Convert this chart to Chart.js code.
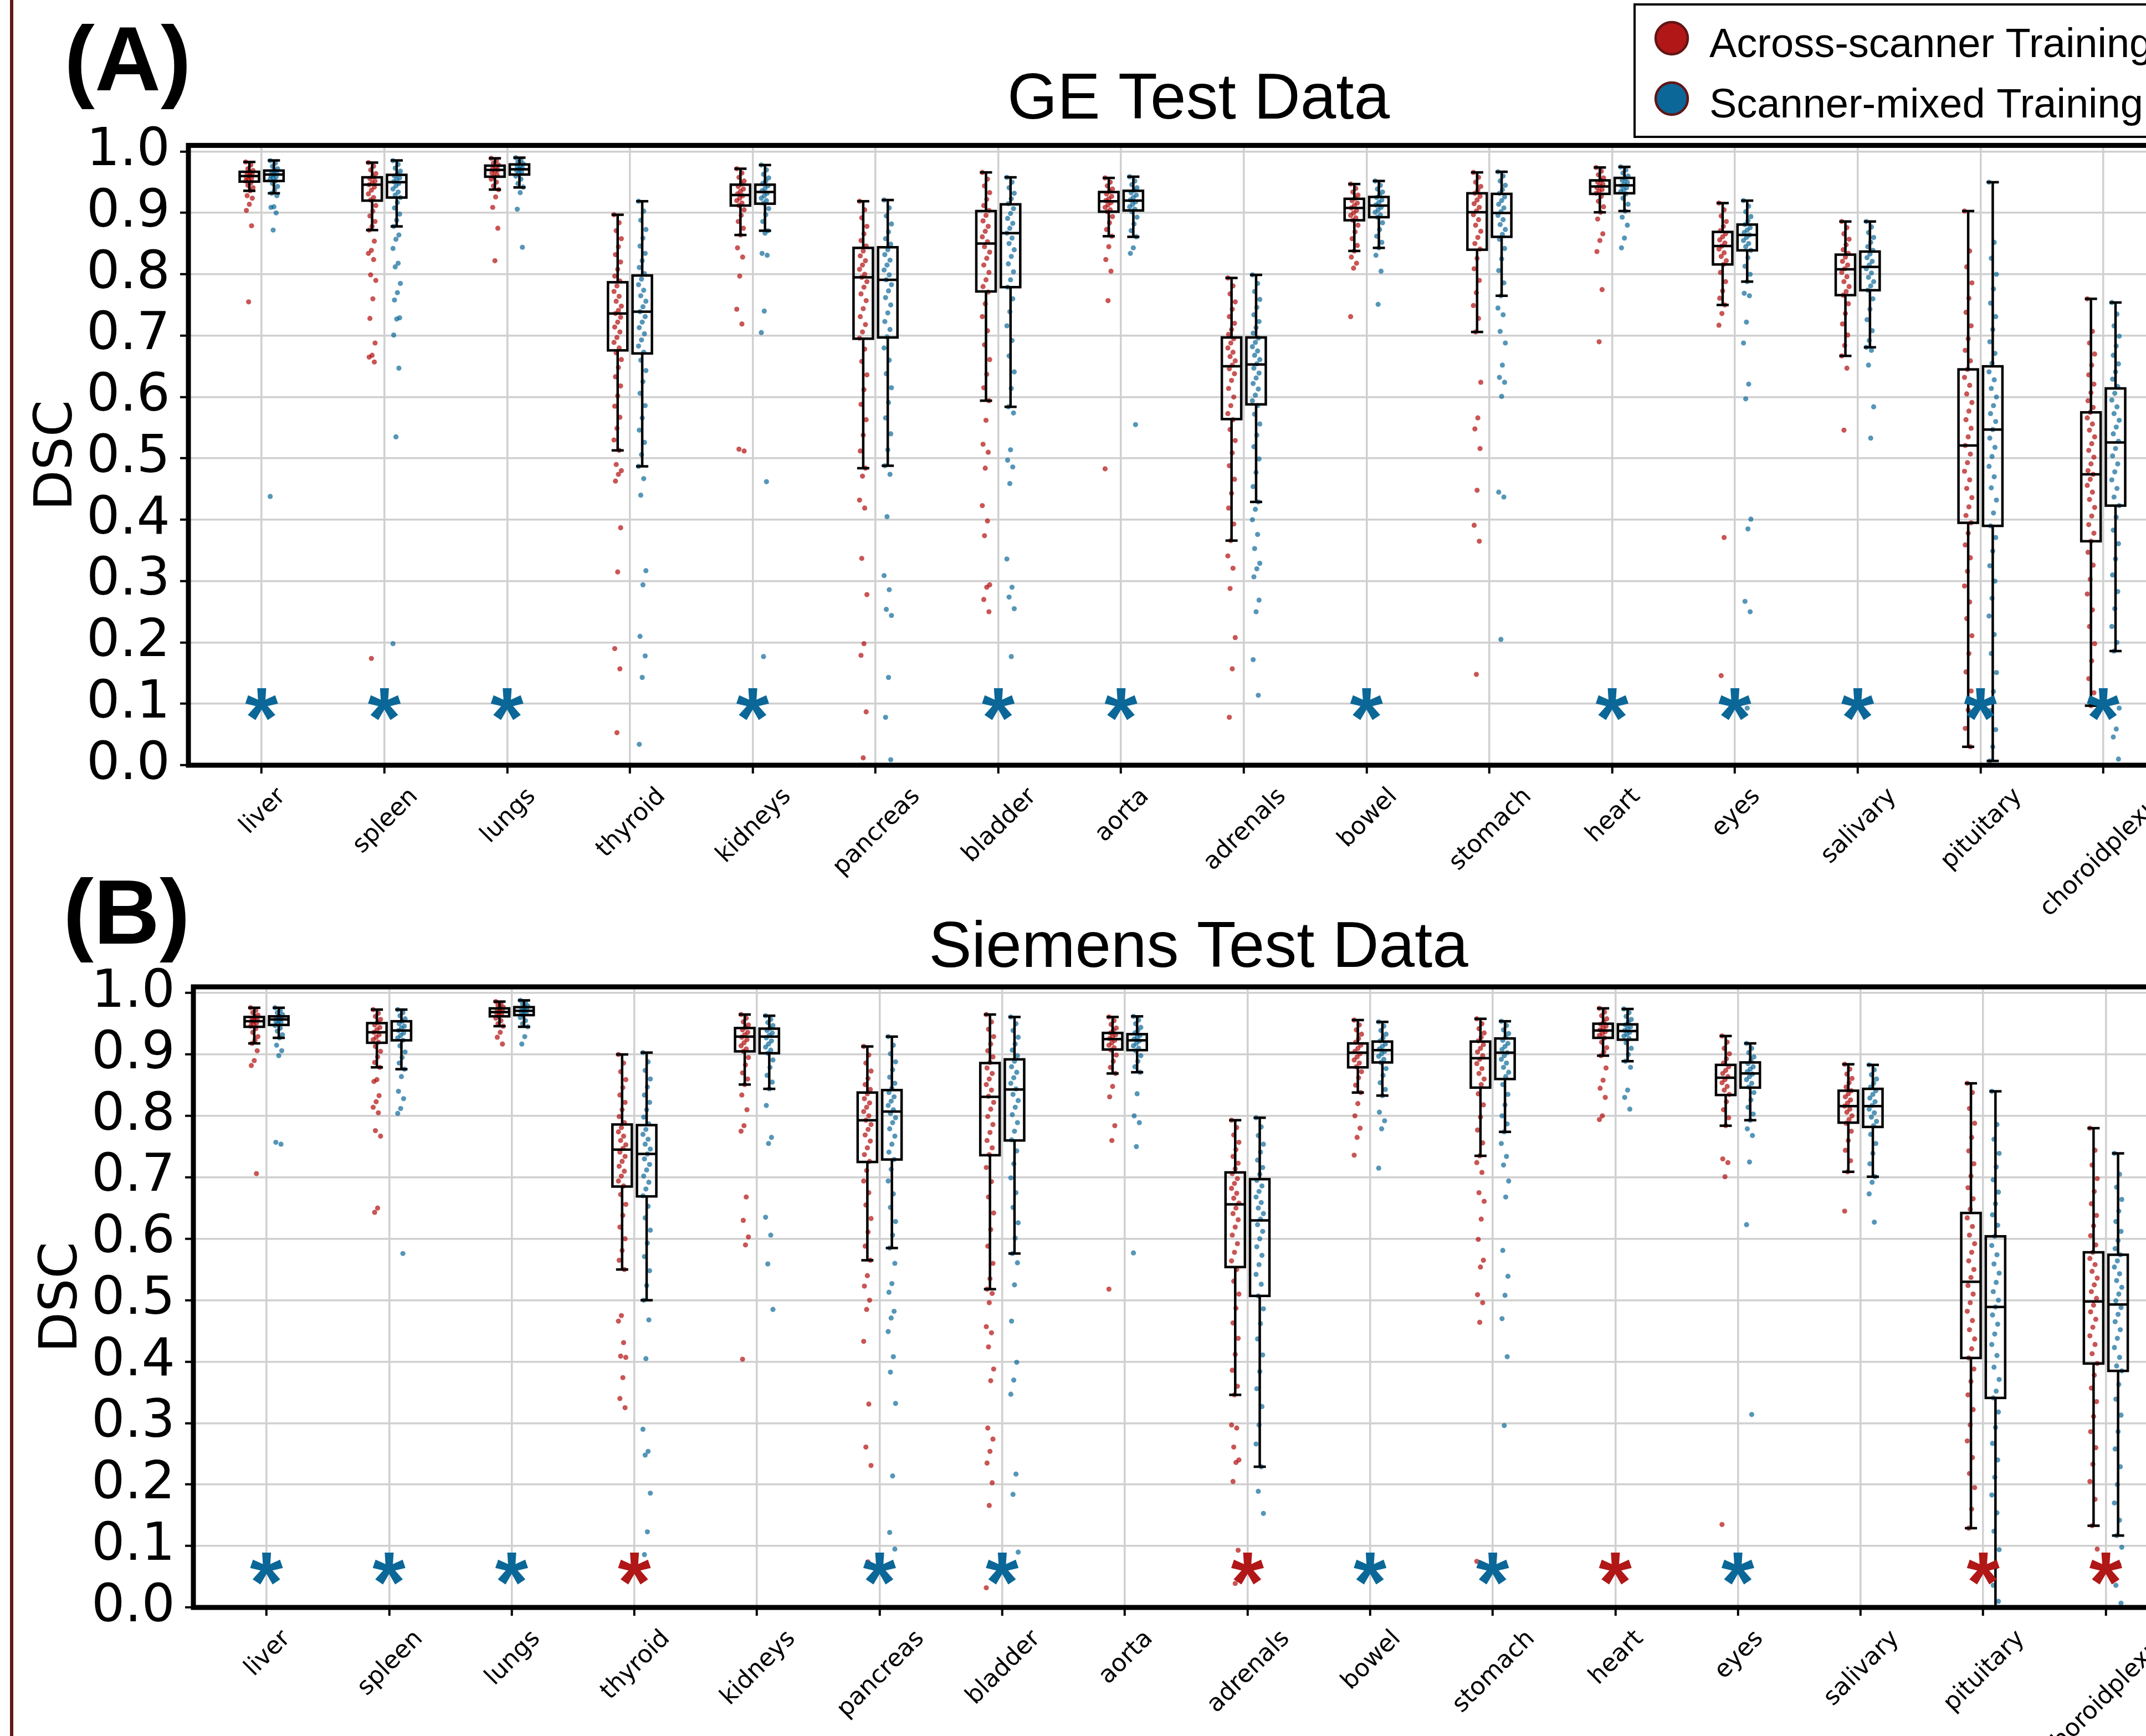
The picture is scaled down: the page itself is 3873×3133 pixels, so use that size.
<!DOCTYPE html>
<html><head><meta charset="utf-8">
<script src="https://cdn.jsdelivr.net/npm/chart.js@4.4.1/dist/chart.umd.min.js"></script>
<style>
html,body{margin:0;padding:0;background:#fff;overflow:hidden;width:3873px;height:3133px;position:relative;}
canvas{position:absolute;left:0;}
#cA{top:0}
#cB{top:1500px}
#edge{position:absolute;left:18px;top:0;width:6px;height:3133px;background:#651818;}
</style></head><body>
<canvas id="cA" width="4100" height="1700" style="width:4100px;height:1700px"></canvas>
<canvas id="cB" width="4100" height="1633" style="width:4100px;height:1633px"></canvas>
<div id="edge"></div>
<script>
// ---------------- DATA ----------------
const organs = ['liver','spleen','lungs','thyroid','kidneys','pancreas','bladder','aorta','adrenals','bowel','stomach','heart','eyes','salivary','pituitary','choroidplexus'];
const seriesNames = ['Across-scanner Training','Scanner-mixed Training'];
const yTicks = [0.0,0.1,0.2,0.3,0.4,0.5,0.6,0.7,0.8,0.9,1.0];
const panelTitles = ['GE Test Data','Siemens Test Data'];
const panelLabels = ['(A)','(B)'];

// box stats: [lower whisker, Q1, median, Q3, upper whisker]
const geAcrossBox = [
 [0.936,0.951,0.960,0.967,0.983],[0.872,0.920,0.946,0.958,0.982],[0.938,0.959,0.970,0.977,0.989],[0.513,0.676,0.736,0.787,0.897],
 [0.864,0.912,0.929,0.946,0.972],[0.484,0.695,0.795,0.843,0.919],[0.594,0.772,0.850,0.903,0.966],[0.862,0.902,0.919,0.934,0.957],
 [0.366,0.564,0.650,0.697,0.794],[0.838,0.888,0.908,0.923,0.947],[0.706,0.840,0.901,0.932,0.966],[0.901,0.931,0.943,0.953,0.974],
 [0.750,0.816,0.846,0.869,0.916],[0.667,0.766,0.808,0.832,0.886],[0.030,0.395,0.521,0.645,0.903],[0.097,0.365,0.474,0.575,0.760]];
const geMixedBox = [
 [0.932,0.952,0.9625,0.969,0.9855],[0.878,0.925,0.950,0.962,0.9855],[0.9415,0.9625,0.971,0.979,0.990],[0.487,0.671,0.739,0.798,0.919],
 [0.871,0.915,0.934,0.946,0.978],[0.488,0.697,0.791,0.844,0.921],[0.584,0.779,0.867,0.914,0.958],[0.861,0.904,0.920,0.936,0.959],
 [0.429,0.588,0.653,0.697,0.799],[0.843,0.893,0.912,0.926,0.952],[0.765,0.861,0.900,0.931,0.967],[0.903,0.932,0.945,0.957,0.975],
 [0.788,0.839,0.864,0.881,0.920],[0.681,0.774,0.812,0.837,0.886],[0.007,0.390,0.547,0.650,0.950],[0.186,0.423,0.526,0.614,0.754]];
const siemensAcrossBox = [
 [0.918,0.945,0.954,0.961,0.976],[0.879,0.919,0.936,0.951,0.973],[0.946,0.962,0.969,0.975,0.986],[0.550,0.685,0.745,0.786,0.900],
 [0.851,0.905,0.929,0.943,0.965],[0.565,0.725,0.793,0.838,0.913],[0.518,0.736,0.831,0.886,0.965],[0.869,0.908,0.925,0.935,0.961],
 [0.346,0.554,0.656,0.708,0.793],[0.838,0.879,0.903,0.918,0.956],[0.735,0.846,0.894,0.921,0.958],[0.898,0.927,0.939,0.950,0.975],
 [0.784,0.834,0.862,0.883,0.930],[0.709,0.789,0.816,0.841,0.884],[0.129,0.406,0.530,0.642,0.853],[0.133,0.397,0.498,0.578,0.780]];
const siemensMixedBox = [
 [0.927,0.948,0.957,0.962,0.976],[0.876,0.923,0.939,0.954,0.973],[0.945,0.964,0.971,0.977,0.988],[0.500,0.669,0.738,0.785,0.903],
 [0.844,0.902,0.929,0.942,0.963],[0.585,0.729,0.807,0.842,0.929],[0.576,0.760,0.843,0.892,0.961],[0.871,0.907,0.923,0.933,0.962],
 [0.229,0.507,0.630,0.697,0.797],[0.833,0.887,0.907,0.921,0.953],[0.774,0.860,0.903,0.926,0.954],[0.889,0.924,0.938,0.949,0.974],
 [0.793,0.846,0.869,0.887,0.918],[0.701,0.782,0.816,0.844,0.883],[0.000,0.341,0.489,0.604,0.840],[0.117,0.385,0.493,0.574,0.739]];

// individual case DSC values (estimated from the strip points)
const geAcrossPts = [
 [0.983,0.978,0.972,0.969,0.966,0.964,0.962,0.960,0.958,0.956,0.954,0.952,0.949,0.945,0.941,0.936,0.928,0.924,0.914,0.904,0.879,0.755],
 [0.982,0.976,0.970,0.964,0.959,0.956,0.952,0.949,0.946,0.942,0.937,0.931,0.925,0.921,0.912,0.903,0.895,0.886,0.878,0.872,0.854,0.839,0.834,0.824,0.799,0.790,0.760,0.728,0.688,0.668,0.665,0.657,0.174],
 [0.989,0.985,0.981,0.978,0.975,0.972,0.970,0.968,0.965,0.962,0.959,0.955,0.950,0.944,0.938,0.926,0.909,0.875,0.822],
 [0.897,0.884,0.871,0.858,0.845,0.832,0.820,0.808,0.797,0.789,0.781,0.772,0.764,0.756,0.748,0.741,0.736,0.730,0.722,0.714,0.706,0.697,0.689,0.680,0.672,0.661,0.648,0.633,0.618,0.602,0.585,0.567,0.549,0.530,0.513,0.490,0.480,0.474,0.463,0.387,0.315,0.190,0.157,0.053],
 [0.972,0.965,0.958,0.952,0.947,0.943,0.939,0.935,0.931,0.928,0.924,0.920,0.916,0.912,0.905,0.896,0.886,0.875,0.864,0.843,0.828,0.797,0.743,0.719,0.515,0.512],
 [0.919,0.905,0.892,0.878,0.866,0.855,0.846,0.838,0.830,0.822,0.815,0.808,0.800,0.795,0.788,0.779,0.768,0.757,0.744,0.731,0.718,0.706,0.696,0.678,0.658,0.636,0.612,0.588,0.563,0.538,0.512,0.484,0.471,0.432,0.419,0.337,0.278,0.198,0.179,0.087,0.012],
 [0.966,0.955,0.944,0.933,0.922,0.912,0.904,0.896,0.887,0.878,0.870,0.861,0.853,0.845,0.836,0.826,0.815,0.803,0.791,0.780,0.771,0.752,0.731,0.708,0.685,0.661,0.637,0.615,0.594,0.562,0.523,0.510,0.484,0.423,0.398,0.374,0.294,0.290,0.270,0.250],
 [0.957,0.950,0.944,0.939,0.935,0.931,0.927,0.923,0.920,0.917,0.913,0.909,0.905,0.902,0.894,0.884,0.873,0.862,0.845,0.824,0.805,0.757,0.483],
 [0.794,0.781,0.768,0.755,0.743,0.731,0.720,0.710,0.702,0.695,0.688,0.680,0.673,0.666,0.659,0.652,0.646,0.638,0.627,0.614,0.600,0.586,0.573,0.563,0.547,0.529,0.509,0.488,0.466,0.443,0.419,0.393,0.366,0.341,0.321,0.288,0.208,0.157,0.078],
 [0.947,0.940,0.934,0.929,0.924,0.920,0.916,0.912,0.908,0.904,0.900,0.896,0.892,0.888,0.880,0.869,0.858,0.847,0.838,0.828,0.818,0.810,0.731],
 [0.966,0.958,0.950,0.943,0.937,0.932,0.927,0.921,0.915,0.909,0.903,0.897,0.889,0.880,0.870,0.860,0.850,0.841,0.826,0.809,0.790,0.770,0.749,0.728,0.706,0.624,0.566,0.548,0.516,0.448,0.391,0.365,0.148],
 [0.974,0.968,0.962,0.957,0.953,0.950,0.947,0.944,0.941,0.938,0.935,0.932,0.927,0.919,0.910,0.901,0.890,0.866,0.855,0.837,0.775,0.690],
 [0.916,0.905,0.895,0.886,0.878,0.871,0.866,0.861,0.856,0.851,0.846,0.841,0.835,0.829,0.822,0.816,0.803,0.788,0.773,0.761,0.750,0.736,0.717,0.371,0.146],
 [0.886,0.876,0.866,0.857,0.848,0.840,0.834,0.828,0.821,0.815,0.809,0.803,0.796,0.788,0.780,0.772,0.766,0.752,0.736,0.719,0.701,0.684,0.667,0.647,0.546],
 [0.903,0.838,0.812,0.786,0.761,0.738,0.716,0.695,0.676,0.659,0.645,0.632,0.619,0.605,0.591,0.577,0.563,0.549,0.535,0.521,0.507,0.493,0.479,0.465,0.451,0.436,0.421,0.407,0.395,0.378,0.359,0.338,0.316,0.292,0.266,0.239,0.211,0.182,0.152,0.121,0.090,0.060,0.030],
 [0.760,0.707,0.688,0.670,0.652,0.636,0.621,0.607,0.594,0.583,0.575,0.566,0.556,0.546,0.535,0.524,0.513,0.502,0.491,0.480,0.474,0.466,0.456,0.445,0.433,0.420,0.406,0.392,0.378,0.365,0.347,0.326,0.303,0.279,0.253,0.226,0.198,0.170,0.141,0.118,0.097]];
const geMixedPts = [
 [0.985,0.981,0.976,0.972,0.969,0.967,0.965,0.963,0.961,0.959,0.957,0.955,0.952,0.948,0.943,0.937,0.932,0.928,0.910,0.909,0.900,0.872,0.438],
 [0.985,0.979,0.973,0.968,0.963,0.960,0.957,0.954,0.951,0.948,0.944,0.939,0.934,0.929,0.925,0.917,0.908,0.898,0.888,0.878,0.864,0.857,0.842,0.818,0.812,0.785,0.770,0.758,0.729,0.727,0.701,0.647,0.535,0.198],
 [0.990,0.986,0.983,0.980,0.977,0.975,0.973,0.971,0.969,0.967,0.964,0.960,0.955,0.948,0.942,0.933,0.906,0.844],
 [0.919,0.903,0.888,0.873,0.859,0.846,0.834,0.822,0.811,0.801,0.792,0.783,0.774,0.765,0.756,0.747,0.739,0.731,0.722,0.713,0.703,0.693,0.683,0.673,0.660,0.643,0.625,0.606,0.586,0.566,0.546,0.526,0.506,0.487,0.467,0.440,0.317,0.294,0.210,0.178,0.143,0.034],
 [0.978,0.970,0.963,0.957,0.952,0.948,0.944,0.940,0.936,0.932,0.928,0.924,0.920,0.916,0.907,0.897,0.886,0.871,0.867,0.834,0.831,0.740,0.705,0.462,0.177],
 [0.921,0.908,0.895,0.882,0.869,0.858,0.849,0.840,0.832,0.823,0.815,0.807,0.799,0.791,0.783,0.773,0.762,0.750,0.737,0.723,0.710,0.698,0.680,0.660,0.638,0.615,0.591,0.566,0.540,0.514,0.488,0.474,0.405,0.309,0.286,0.254,0.244,0.143,0.078,0.009],
 [0.958,0.950,0.941,0.932,0.923,0.915,0.907,0.899,0.891,0.883,0.875,0.867,0.859,0.850,0.840,0.829,0.817,0.804,0.791,0.779,0.760,0.739,0.716,0.692,0.667,0.641,0.614,0.584,0.574,0.514,0.497,0.486,0.459,0.336,0.290,0.274,0.255,0.177],
 [0.959,0.952,0.946,0.941,0.937,0.933,0.929,0.925,0.921,0.918,0.914,0.910,0.906,0.902,0.893,0.882,0.871,0.861,0.843,0.834,0.555],
 [0.799,0.785,0.772,0.759,0.746,0.734,0.723,0.713,0.704,0.696,0.689,0.682,0.675,0.668,0.661,0.654,0.647,0.639,0.631,0.622,0.613,0.603,0.594,0.586,0.572,0.556,0.538,0.519,0.499,0.477,0.454,0.429,0.417,0.400,0.376,0.353,0.329,0.320,0.307,0.269,0.250,0.172,0.114],
 [0.952,0.945,0.939,0.934,0.929,0.925,0.921,0.917,0.913,0.909,0.905,0.901,0.897,0.893,0.884,0.873,0.862,0.852,0.843,0.831,0.805,0.751],
 [0.967,0.960,0.952,0.945,0.938,0.932,0.926,0.920,0.914,0.908,0.902,0.896,0.889,0.881,0.873,0.865,0.857,0.842,0.825,0.806,0.786,0.765,0.745,0.734,0.707,0.688,0.652,0.632,0.624,0.601,0.445,0.437,0.205],
 [0.975,0.970,0.965,0.960,0.956,0.953,0.950,0.947,0.944,0.941,0.938,0.935,0.931,0.924,0.914,0.903,0.893,0.880,0.859,0.843],
 [0.920,0.911,0.902,0.894,0.887,0.881,0.876,0.872,0.868,0.864,0.860,0.855,0.850,0.845,0.839,0.827,0.813,0.800,0.788,0.769,0.765,0.722,0.688,0.621,0.597,0.401,0.385,0.267,0.250,0.093],
 [0.886,0.877,0.868,0.860,0.852,0.845,0.839,0.833,0.827,0.821,0.815,0.809,0.802,0.795,0.788,0.781,0.774,0.760,0.743,0.726,0.708,0.692,0.681,0.676,0.652,0.584,0.533],
 [0.950,0.852,0.826,0.800,0.776,0.753,0.731,0.710,0.690,0.671,0.655,0.641,0.628,0.614,0.600,0.586,0.573,0.560,0.547,0.533,0.518,0.503,0.487,0.470,0.452,0.432,0.411,0.390,0.371,0.349,0.325,0.300,0.272,0.243,0.213,0.182,0.151,0.120,0.089,0.058,0.030,0.007],
 [0.754,0.735,0.716,0.699,0.683,0.668,0.654,0.641,0.629,0.617,0.606,0.595,0.584,0.573,0.562,0.551,0.540,0.528,0.516,0.504,0.491,0.478,0.465,0.451,0.437,0.423,0.404,0.383,0.361,0.336,0.310,0.283,0.255,0.226,0.200,0.186,0.093,0.059,0.046,0.010]];
const siemensAcrossPts = [
 [0.976,0.972,0.968,0.964,0.961,0.959,0.957,0.955,0.953,0.951,0.949,0.946,0.942,0.936,0.929,0.923,0.918,0.906,0.890,0.882,0.706],
 [0.973,0.967,0.962,0.957,0.952,0.948,0.944,0.940,0.936,0.932,0.928,0.924,0.920,0.913,0.905,0.896,0.887,0.879,0.859,0.856,0.833,0.823,0.814,0.805,0.776,0.767,0.650,0.643],
 [0.986,0.983,0.980,0.977,0.975,0.973,0.971,0.969,0.967,0.965,0.963,0.959,0.955,0.950,0.946,0.936,0.928,0.917],
 [0.900,0.886,0.872,0.859,0.846,0.834,0.822,0.810,0.799,0.789,0.781,0.774,0.767,0.760,0.753,0.747,0.741,0.734,0.726,0.718,0.710,0.702,0.694,0.686,0.672,0.656,0.638,0.619,0.600,0.581,0.565,0.550,0.475,0.466,0.431,0.409,0.407,0.374,0.340,0.325],
 [0.965,0.959,0.953,0.948,0.944,0.940,0.936,0.932,0.928,0.924,0.919,0.914,0.909,0.905,0.895,0.883,0.870,0.860,0.851,0.834,0.810,0.784,0.775,0.668,0.630,0.603,0.590,0.404],
 [0.913,0.899,0.886,0.873,0.861,0.851,0.843,0.836,0.828,0.821,0.814,0.807,0.800,0.793,0.786,0.778,0.769,0.759,0.748,0.737,0.726,0.711,0.694,0.675,0.655,0.633,0.611,0.588,0.565,0.540,0.523,0.500,0.485,0.433,0.331,0.261,0.231,0.074],
 [0.965,0.953,0.941,0.929,0.917,0.906,0.896,0.887,0.878,0.869,0.860,0.851,0.842,0.832,0.822,0.811,0.799,0.786,0.773,0.760,0.748,0.737,0.716,0.693,0.668,0.642,0.615,0.588,0.560,0.535,0.518,0.511,0.496,0.457,0.447,0.424,0.388,0.369,0.292,0.274,0.254,0.235,0.203,0.166,0.032],
 [0.961,0.955,0.949,0.943,0.939,0.935,0.932,0.929,0.926,0.923,0.919,0.915,0.911,0.907,0.899,0.889,0.879,0.869,0.848,0.831,0.784,0.760,0.518],
 [0.793,0.781,0.769,0.757,0.745,0.734,0.723,0.714,0.706,0.698,0.690,0.682,0.674,0.666,0.658,0.650,0.641,0.631,0.619,0.606,0.592,0.578,0.564,0.550,0.531,0.510,0.487,0.463,0.438,0.412,0.386,0.360,0.346,0.297,0.292,0.261,0.240,0.236,0.205,0.093,0.039],
 [0.956,0.948,0.940,0.933,0.926,0.920,0.915,0.910,0.905,0.901,0.896,0.891,0.886,0.880,0.872,0.862,0.850,0.838,0.820,0.800,0.780,0.765,0.736],
 [0.958,0.950,0.942,0.935,0.928,0.922,0.916,0.910,0.904,0.898,0.892,0.885,0.877,0.869,0.860,0.851,0.836,0.818,0.798,0.777,0.756,0.735,0.724,0.708,0.675,0.661,0.632,0.599,0.565,0.554,0.509,0.496,0.464,0.075],
 [0.975,0.969,0.963,0.958,0.953,0.949,0.946,0.943,0.940,0.937,0.934,0.931,0.927,0.920,0.911,0.904,0.898,0.878,0.858,0.845,0.830,0.800,0.794],
 [0.930,0.920,0.910,0.901,0.893,0.886,0.880,0.874,0.869,0.864,0.859,0.854,0.848,0.842,0.835,0.823,0.810,0.797,0.784,0.730,0.724,0.701,0.135],
 [0.884,0.876,0.868,0.861,0.854,0.847,0.841,0.836,0.831,0.826,0.821,0.816,0.811,0.806,0.800,0.794,0.788,0.775,0.760,0.744,0.727,0.709,0.645],
 [0.853,0.838,0.812,0.788,0.765,0.743,0.722,0.702,0.683,0.665,0.648,0.634,0.620,0.606,0.592,0.578,0.564,0.550,0.537,0.524,0.510,0.496,0.482,0.467,0.452,0.437,0.421,0.406,0.388,0.368,0.346,0.322,0.297,0.271,0.244,0.218,0.195,0.160,0.129],
 [0.780,0.744,0.720,0.698,0.677,0.657,0.638,0.621,0.605,0.590,0.578,0.568,0.558,0.547,0.536,0.525,0.514,0.503,0.492,0.481,0.469,0.456,0.442,0.428,0.413,0.397,0.378,0.357,0.335,0.311,0.286,0.260,0.233,0.205,0.176,0.133,0.095]];
const siemensMixedPts = [
 [0.976,0.972,0.968,0.965,0.962,0.960,0.958,0.956,0.954,0.952,0.950,0.947,0.943,0.938,0.932,0.927,0.915,0.906,0.898,0.757,0.754],
 [0.973,0.968,0.963,0.958,0.954,0.950,0.946,0.943,0.939,0.935,0.931,0.927,0.923,0.914,0.904,0.895,0.886,0.876,0.864,0.840,0.828,0.812,0.804,0.576],
 [0.988,0.985,0.982,0.979,0.977,0.975,0.973,0.971,0.969,0.967,0.964,0.960,0.955,0.950,0.945,0.929,0.917],
 [0.903,0.888,0.874,0.860,0.847,0.834,0.822,0.810,0.798,0.787,0.778,0.770,0.762,0.754,0.746,0.738,0.730,0.721,0.712,0.702,0.692,0.681,0.670,0.653,0.634,0.614,0.593,0.571,0.548,0.524,0.500,0.468,0.405,0.290,0.254,0.248,0.186,0.123,0.086],
 [0.963,0.957,0.952,0.947,0.943,0.939,0.935,0.931,0.927,0.922,0.917,0.912,0.907,0.902,0.891,0.879,0.866,0.855,0.844,0.817,0.765,0.755,0.635,0.606,0.559,0.485],
 [0.929,0.915,0.901,0.888,0.875,0.863,0.853,0.845,0.838,0.831,0.824,0.817,0.810,0.804,0.797,0.789,0.779,0.767,0.754,0.741,0.729,0.713,0.694,0.673,0.651,0.628,0.606,0.585,0.560,0.527,0.513,0.482,0.471,0.449,0.408,0.383,0.332,0.214,0.122,0.095],
 [0.961,0.950,0.939,0.928,0.917,0.907,0.898,0.889,0.880,0.871,0.862,0.853,0.844,0.835,0.825,0.814,0.802,0.789,0.775,0.761,0.743,0.722,0.699,0.675,0.651,0.626,0.601,0.576,0.561,0.525,0.466,0.399,0.370,0.347,0.217,0.184,0.090],
 [0.962,0.956,0.950,0.944,0.939,0.935,0.931,0.928,0.925,0.922,0.918,0.914,0.910,0.906,0.898,0.889,0.880,0.871,0.836,0.800,0.789,0.750,0.577],
 [0.797,0.782,0.768,0.754,0.741,0.728,0.716,0.705,0.695,0.686,0.677,0.668,0.659,0.650,0.641,0.632,0.623,0.612,0.600,0.587,0.573,0.558,0.542,0.526,0.507,0.486,0.462,0.437,0.411,0.384,0.356,0.327,0.297,0.266,0.229,0.189,0.153],
 [0.953,0.946,0.939,0.933,0.927,0.922,0.917,0.913,0.909,0.905,0.901,0.897,0.892,0.887,0.877,0.866,0.854,0.843,0.833,0.806,0.792,0.779,0.715],
 [0.954,0.947,0.940,0.934,0.928,0.923,0.918,0.913,0.908,0.903,0.898,0.892,0.886,0.879,0.871,0.864,0.851,0.835,0.818,0.800,0.787,0.774,0.755,0.734,0.720,0.694,0.668,0.581,0.539,0.508,0.470,0.408,0.296],
 [0.974,0.968,0.962,0.957,0.952,0.948,0.945,0.942,0.939,0.936,0.933,0.930,0.926,0.919,0.910,0.900,0.889,0.879,0.842,0.830,0.811],
 [0.918,0.910,0.903,0.896,0.890,0.885,0.880,0.876,0.872,0.868,0.864,0.859,0.853,0.847,0.838,0.826,0.814,0.803,0.793,0.779,0.768,0.725,0.623,0.314],
 [0.883,0.875,0.867,0.860,0.853,0.847,0.841,0.835,0.829,0.823,0.817,0.811,0.805,0.798,0.791,0.784,0.770,0.755,0.739,0.722,0.701,0.692,0.673,0.627],
 [0.840,0.786,0.762,0.739,0.717,0.696,0.676,0.657,0.639,0.622,0.604,0.589,0.574,0.559,0.544,0.529,0.514,0.500,0.489,0.476,0.461,0.445,0.428,0.410,0.391,0.371,0.352,0.341,0.318,0.293,0.267,0.240,0.212,0.183,0.154,0.124,0.094,0.066,0.036,0.010],
 [0.739,0.705,0.684,0.664,0.645,0.628,0.612,0.597,0.584,0.574,0.564,0.554,0.543,0.532,0.521,0.510,0.499,0.488,0.477,0.465,0.452,0.438,0.423,0.407,0.393,0.385,0.363,0.339,0.313,0.286,0.258,0.229,0.200,0.170,0.142,0.117,0.098,0.070,0.036,0.007]];

// significance marks: 'A' = Across-scanner better (red), 'M' = Scanner-mixed better (blue), '' = none
const geStars      = ['M','M','M','','M','','M','M','','M','','M','M','M','M','M'];
const siemensStars = ['M','M','M','A','','M','M','','A','M','M','A','M','','A','A'];
const geStarLevel = 0.099;
const siemensStarLevel = 0.063;

// ---------------- STYLE ----------------
const RED = '#b11717', BLUE = '#0b6798';
const DOT_RED = 'rgba(176,4,4,0.68)', DOT_BLUE = 'rgba(4,100,150,0.68)';
const GRID = '#d0d0d0';
const OFFSET = 0.1;

function jitter(j) { return ((((j * 7) % 11) - 5) / 5) * 0.03; }
function stripData(ptsArr, side) {
  const out = [];
  ptsArr.forEach((vals, i) => vals.forEach((v, j) => out.push({x: i + side * OFFSET + jitter(j), y: v})));
  return out;
}

function line(ctx, x1, y1, x2, y2) { ctx.beginPath(); ctx.moveTo(x1, y1); ctx.lineTo(x2, y2); ctx.stroke(); }

function makePlugin(P) {
  return {
    id: 'panelDecor',
    afterDatasetsDraw(chart) {
      const ctx = chart.ctx, x = chart.scales.x, y = chart.scales.y;
      ctx.save();
      ctx.strokeStyle = '#000'; ctx.lineWidth = 4.5; ctx.lineCap = 'butt';
      [P.acrossBox, P.mixedBox].forEach((stats, si) => {
        const side = si === 0 ? -1 : 1;
        stats.forEach((s, i) => {
          const cx = x.getPixelForValue(i + side * OFFSET);
          const lo = y.getPixelForValue(s[0]), q1 = y.getPixelForValue(s[1]), md = y.getPixelForValue(s[2]),
                q3 = y.getPixelForValue(s[3]), hi = y.getPixelForValue(s[4]);
          line(ctx, cx, q3, cx, hi); line(ctx, cx, q1, cx, lo);
          line(ctx, cx - 11, hi, cx + 11, hi); line(ctx, cx - 11, lo, cx + 11, lo);
          ctx.strokeRect(cx - 17.5, q3, 35, q1 - q3);
          line(ctx, cx - 17.5, md, cx + 17.5, md);
        });
      });
      // significance asterisks
      ctx.font = 'bold 120px "Liberation Sans"';
      let m = ctx.measureText('*');
      const fs = 120 * 60 / (m.actualBoundingBoxLeft + m.actualBoundingBoxRight);
      ctx.font = 'bold ' + fs + 'px "Liberation Sans"';
      m = ctx.measureText('*');
      ctx.textAlign = 'left'; ctx.textBaseline = 'alphabetic';
      P.stars.forEach((s, i) => {
        if (!s) return;
        ctx.fillStyle = s === 'A' ? RED : BLUE;
        const cx = x.getPixelForValue(i), cy = y.getPixelForValue(P.starLevel);
        const bx = cx - (m.actualBoundingBoxRight - m.actualBoundingBoxLeft) / 2;
        const by = cy + (m.actualBoundingBoxAscent - m.actualBoundingBoxDescent) / 2;
        ctx.fillText('*', bx, by);
      });
      ctx.restore();
    },
    afterDraw(chart) {
      const ctx = chart.ctx, a = chart.chartArea, x = chart.scales.x;
      ctx.save();
      // spines
      ctx.strokeStyle = '#000'; ctx.lineWidth = 9;
      ctx.strokeRect(a.left, a.top, a.right - a.left, a.bottom - a.top);
      // x category labels, rotated 45 deg, bbox centred on tick
      const fsx = 44;
      ctx.font = fsx + 'px "DejaVu Sans"'; ctx.fillStyle = '#000';
      ctx.textAlign = 'center'; ctx.textBaseline = 'alphabetic';
      const h = fsx * 1.164;
      organs.forEach((o, i) => {
        const L = ctx.measureText(o).width;
        const D = (L + h) * Math.SQRT1_2;
        const cx = x.getPixelForValue(i), cy = a.bottom + 29 + D / 2;
        ctx.save(); ctx.translate(cx, cy); ctx.rotate(-Math.PI / 4);
        ctx.fillText(o, 0, 0.346 * fsx);
        ctx.restore();
      });
      // y axis title
      const fsy = 95;
      ctx.save();
      ctx.translate(a.left - 246, (a.top + a.bottom) / 2); ctx.rotate(-Math.PI / 2);
      ctx.font = fsy + 'px "DejaVu Sans"'; ctx.textAlign = 'center';
      ctx.fillText('DSC', 0, 0.3645 * fsy);
      ctx.restore();
      // title
      ctx.font = '116px "Liberation Sans"'; ctx.textAlign = 'center';
      ctx.fillText(P.title, 2163, P.titleBase);
      // panel label
      ctx.font = 'bold 165px "Liberation Sans"'; ctx.textAlign = 'left';
      const pm = ctx.measureText(P.label);
      ctx.fillText(P.label, P.labelInkLeft + pm.actualBoundingBoxLeft, P.labelBase);
      // legend
      if (P.legend) {
        ctx.fillStyle = '#fff'; ctx.fillRect(2950, 8, 1200, 239);
        ctx.strokeStyle = '#000'; ctx.lineWidth = 4; ctx.strokeRect(2950, 8, 1200, 239);
        [[69, RED], [178, BLUE]].forEach((e, k) => {
          ctx.beginPath(); ctx.arc(3017, e[0], 29, 0, Math.PI * 2);
          ctx.fillStyle = e[1]; ctx.fill();
          ctx.lineWidth = 4.5; ctx.strokeStyle = '#621515'; ctx.stroke();
          ctx.fillStyle = '#000'; ctx.font = '74px "Liberation Sans"'; ctx.textAlign = 'left';
          ctx.fillText(seriesNames[k], 3085, k === 0 ? 103 : 212);
        });
      }
      ctx.restore();
    }
  };
}

function makePanel(id, P) {
  return new Chart(document.getElementById(id), {
    type: 'scatter',
    data: { datasets: [
      { label: seriesNames[0], data: stripData(P.acrossPts, -1), backgroundColor: DOT_RED, pointRadius: 4.6, pointBorderWidth: 0, pointHoverRadius: 0 },
      { label: seriesNames[1], data: stripData(P.mixedPts, 1), backgroundColor: DOT_BLUE, pointRadius: 4.6, pointBorderWidth: 0, pointHoverRadius: 0 }
    ]},
    options: {
      responsive: false, animation: false, devicePixelRatio: 1, events: [],
      layout: { padding: { left: 0, top: P.top, right: P.right, bottom: P.bottom } },
      plugins: { legend: { display: false }, tooltip: { enabled: false } },
      scales: {
        x: { type: 'linear', bounds: 'data', min: -0.5965, max: 15.5965,
             afterBuildTicks: s => { s.ticks = organs.map((_, i) => ({ value: i })); },
             afterFit: s => { s.height = 15; },
             ticks: { display: false, autoSkip: false },
             grid: { color: GRID, lineWidth: 3.5, tickColor: '#000', tickWidth: 4, tickLength: 15 },
             border: { display: false } },
        y: { type: 'linear', bounds: 'data', min: 0, max: 1.01,
             afterBuildTicks: s => { s.ticks = yTicks.map(v => ({ value: v })); },
             afterFit: s => { s.width = P.left; },
             ticks: { autoSkip: false, font: { family: 'DejaVu Sans', size: 95 }, color: '#000', padding: 18, callback: v => Number(v).toFixed(1) },
             grid: { color: GRID, lineWidth: 3.5, tickColor: '#000', tickWidth: 4, tickLength: 15 },
             border: { display: false } }
      }
    },
    plugins: [makePlugin(P)]
  });
}

makePanel('cA', {
  acrossBox: geAcrossBox, mixedBox: geMixedBox, acrossPts: geAcrossPts, mixedPts: geMixedPts,
  stars: geStars, starLevel: geStarLevel, title: panelTitles[0], label: panelLabels[0],
  titleBase: 214, labelInkLeft: 124, labelBase: 163, legend: true,
  left: 340, top: 262.4, right: 4100 - 3928, bottom: 1700 - 1381 - 15
});
makePanel('cB', {
  acrossBox: siemensAcrossBox, mixedBox: siemensMixedBox, acrossPts: siemensAcrossPts, mixedPts: siemensMixedPts,
  stars: siemensStars, starLevel: siemensStarLevel, title: panelTitles[1], label: panelLabels[1],
  titleBase: 245, labelInkLeft: 122, labelBase: 203, legend: false,
  left: 349, top: 281, right: 4100 - 3932.5, bottom: 1633 - 1401 - 15
});
</script></body></html>
